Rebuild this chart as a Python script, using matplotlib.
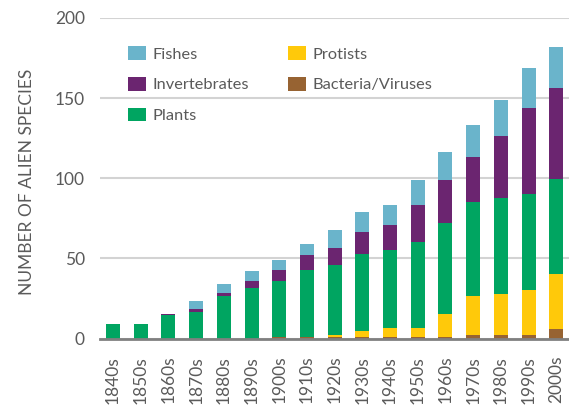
import matplotlib.pyplot as plt
import numpy as np

plt.rcParams['font.family'] = ['Lato', 'DejaVu Sans']

decades = ['1840s', '1850s', '1860s', '1870s', '1880s', '1890s', '1900s', '1910s', '1920s',
           '1930s', '1940s', '1950s', '1960s', '1970s', '1980s', '1990s', '2000s']
bacteria = [0, 0, 0, 0, 0, 0, 1, 1, 1, 1, 1, 1, 1, 2, 2, 2, 6]
protists = [0, 0, 0, 0, 0, 0, 0, 0, 1, 3.5, 5.5, 5.5, 14.5, 24.5, 26, 28, 34]
plants = [9, 9, 14.5, 16.5, 26.5, 31.5, 35, 42, 44, 48, 49, 54, 56.5, 58.5, 59.5, 60, 59.5]
invertebrates = [0, 0, 0.7, 1.9, 1.9, 4.3, 6.9, 9.3, 10.5, 13.8, 15.5, 22.5, 26.8, 28.1, 38.7, 53.6, 56.7]
fishes = [0, 0, 0, 5, 5.5, 6.3, 6.2, 6.5, 11.2, 12.4, 12.5, 16.2, 17.4, 19.9, 22.4, 24.9, 25.5]

series = [
    ('Bacteria/Viruses', bacteria, '#976332'),
    ('Protists', protists, '#FFC90A'),
    ('Plants', plants, '#00A561'),
    ('Invertebrates', invertebrates, '#6B2570'),
    ('Fishes', fishes, '#6AB4CB'),
]

fig = plt.figure(figsize=(5.69, 4.11), dpi=100)
ax = fig.add_axes([100 / 569, 1 - 338.5 / 411, 469 / 569, 320.5 / 411])

x = np.arange(len(decades))
bottom = np.zeros(len(decades))
bars = {}
for name, vals, color in series:
    bars[name] = ax.bar(x, vals, 0.505, bottom=bottom, color=color, zorder=3)
    bottom += np.array(vals)

ax.set_xlim(-0.47, 16.46)
ax.set_ylim(0, 200)
ax.set_yticks([0, 50, 100, 150, 200])
ax.grid(axis='y', color='#d3d3d3', linewidth=1.5, zorder=0)
for s in ['top', 'right', 'left']:
    ax.spines[s].set_visible(False)
ax.spines['bottom'].set_color('#808080')
ax.spines['bottom'].set_linewidth(2)
ax.spines['bottom'].set_zorder(4)

ax.set_xticks(x)
ax.set_xticklabels(decades, rotation=90)
ax.tick_params(axis='x', length=0, pad=12.5, labelsize=12.5, labelcolor='#5a5a5a')
ax.tick_params(axis='y', length=0, pad=11, labelsize=12.5, labelcolor='#5a5a5a')

ax.set_ylabel('NUMBER OF ALIEN SPECIES', fontsize=12.5, color='#5a5a5a')
ax.yaxis.set_label_coords(-0.1386, 0.49)

order = ['Fishes', 'Invertebrates', 'Plants', 'Protists', 'Bacteria/Viruses']
fig.legend([bars[n] for n in order], order, ncol=2, frameon=False,
           loc='upper left', bbox_to_anchor=(128 / 569, 1 - 46 / 411),
           fontsize=11.8, handlelength=1.1, handleheight=0.92, handletextpad=0.37,
           labelspacing=0.93, columnspacing=2.4, borderpad=0, borderaxespad=0,
           labelcolor='#5a5a5a')

fig.savefig('out.png', dpi=100)
